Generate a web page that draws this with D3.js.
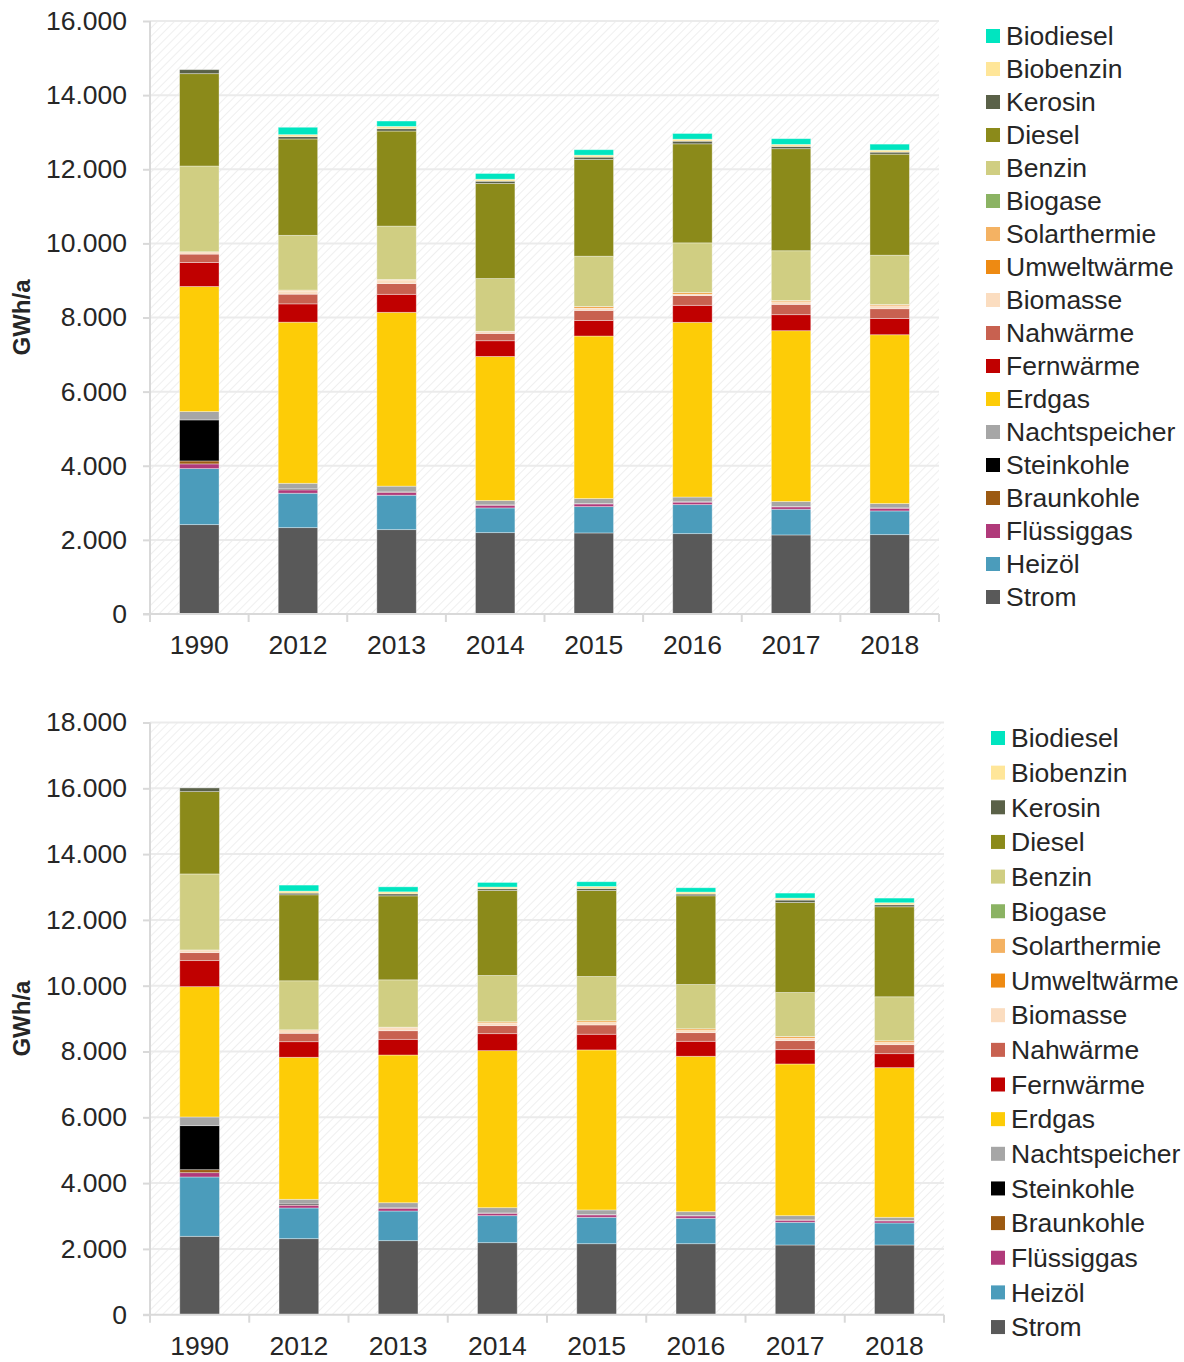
<!DOCTYPE html>
<head>
    <meta charset="utf-8">
    <title>Endenergie GWh/a</title>
    <script src="https://d3js.org/d3.v7.min.js"></script>
    <style>
        body { margin: 0; background: #fff; font-family: "Liberation Sans", Arial, sans-serif; }
        .axis text { font-size: 26.5px; fill: #262626; font-family: "Liberation Sans", Arial, sans-serif; }
        .legend text { font-size: 26.5px; fill: #262626; }
    </style>
</head>
<body>
<div id="container"></div>
<script>
    //------------------------1. DATA------------------------//
    var years = ["1990", "2012", "2013", "2014", "2015", "2016", "2017", "2018"]

    // stacking order, bottom to top
    var seriesNames = ["Strom", "Heizöl", "Flüssiggas", "Braunkohle", "Steinkohle", "Nachtspeicher", "Erdgas",
        "Fernwärme", "Nahwärme", "Biomasse", "Umweltwärme", "Solarthermie", "Biogase", "Benzin", "Diesel",
        "Kerosin", "Biobenzin", "Biodiesel"]
    var seriesColors = ["#595959", "#4B9CBB", "#B03A7A", "#9C5A12", "#000000", "#A6A6A6", "#FDCC07",
        "#C00000", "#C86150", "#FBDDC0", "#EE8A12", "#F4B263", "#8BB363", "#D0CE82", "#8B8A1A",
        "#5A6148", "#FFE699", "#00E5C0"]

    var yTicksTop = [0, 2000, 4000, 6000, 8000, 10000, 12000, 14000, 16000]
    var yTicksBottom = [0, 2000, 4000, 6000, 8000, 10000, 12000, 14000, 16000, 18000]

    // upper chart
    var topStrom = [2411, 2330, 2276, 2195, 2187, 2168, 2133, 2141]
    var topHeizoel = [1512, 929, 929, 667, 710, 783, 694, 640]
    var topFluessiggas = [127, 90, 80, 75, 75, 70, 65, 75]
    var topBraunkohle = [80, 8, 5, 3, 3, 3, 3, 3]
    var topSteinkohle = [1107, 20, 20, 5, 5, 5, 5, 5]
    var topNachtspeicher = [224, 150, 140, 116, 135, 127, 135, 116]
    var topErdgas = [3375, 4347, 4690, 3888, 4385, 4714, 4609, 4555]
    var topFernwaerme = [648, 494, 486, 424, 421, 459, 432, 440]
    var topNahwaerme = [227, 262, 289, 197, 270, 262, 278, 262]
    var topBiomasse = [62, 85, 95, 50, 65, 40, 73, 81]
    var topUmweltwaerme = [0, 20, 12, 5, 35, 36, 27, 27]
    var topSolarthermie = [0, 5, 5, 3, 5, 5, 5, 5]
    var topBiogase = [0, 0, 0, 0, 0, 0, 0, 0]
    var topBenzin = [2314, 1477, 1439, 1423, 1358, 1342, 1342, 1331]
    var topDiesel = [2492, 2600, 2565, 2565, 2611, 2672, 2754, 2727]
    var topKerosin = [108, 63, 63, 62, 62, 72, 62, 54]
    var topBiobenzin = [0, 54, 63, 54, 54, 54, 54, 54]
    var topBiodiesel = [0, 199, 144, 154, 146, 153, 154, 162]

    // lower chart
    var botStrom = [2383, 2311, 2250, 2189, 2158, 2158, 2119, 2119]
    var botHeizoel = [1803, 933, 902, 821, 803, 772, 690, 669]
    var botFluessiggas = [131, 85, 85, 75, 75, 75, 65, 65]
    var botBraunkohle = [91, 8, 5, 3, 3, 3, 3, 3]
    var botSteinkohle = [1338, 30, 20, 5, 5, 5, 5, 5]
    var botNachtspeicher = [264, 140, 141, 160, 140, 118, 128, 100]
    var botErdgas = [3961, 4317, 4490, 4773, 4864, 4724, 4611, 4548]
    var botFernwaerme = [791, 474, 477, 516, 477, 456, 435, 425]
    var botNahwaerme = [243, 256, 262, 244, 283, 262, 274, 274]
    var botBiomasse = [82, 80, 95, 82, 82, 73, 82, 73]
    var botUmweltwaerme = [0, 20, 8, 30, 39, 39, 39, 40]
    var botSolarthermie = [0, 5, 5, 5, 5, 5, 5, 5]
    var botBiogase = [0, 0, 0, 0, 0, 0, 0, 0]
    var botBenzin = [2310, 1490, 1438, 1408, 1347, 1347, 1338, 1337]
    var botDiesel = [2502, 2614, 2553, 2584, 2615, 2696, 2736, 2736]
    var botKerosin = [112, 51, 61, 52, 61, 52, 73, 61]
    var botBiobenzin = [0, 61, 61, 51, 61, 61, 60, 61]
    var botBiodiesel = [0, 183, 152, 140, 142, 131, 152, 142]

    var topSeries = [topStrom, topHeizoel, topFluessiggas, topBraunkohle, topSteinkohle, topNachtspeicher,
        topErdgas, topFernwaerme, topNahwaerme, topBiomasse, topUmweltwaerme, topSolarthermie, topBiogase,
        topBenzin, topDiesel, topKerosin, topBiobenzin, topBiodiesel]
    var botSeries = [botStrom, botHeizoel, botFluessiggas, botBraunkohle, botSteinkohle, botNachtspeicher,
        botErdgas, botFernwaerme, botNahwaerme, botBiomasse, botUmweltwaerme, botSolarthermie, botBiogase,
        botBenzin, botDiesel, botKerosin, botBiobenzin, botBiodiesel]

    //------------------------2. DRAW------------------------//
    var svg = d3.select("#container").append("svg")
        .attr("width", 1184).attr("height", 1362)

    // diagonal hatch for the plot background
    svg.append("defs").append("pattern")
        .attr("id", "hatch")
        .attr("patternUnits", "userSpaceOnUse")
        .attr("width", 6).attr("height", 6)
        .attr("patternTransform", "rotate(45)")
        .append("line")
        .attr("x1", 0).attr("y1", 0).attr("x2", 0).attr("y2", 6)
        .attr("stroke", "#EFEFEF").attr("stroke-width", 2)

    var fmt = function (d) { return d3.format(",")(d).replace(/,/g, "."); }

    function drawChart(cfg) {
        var x = d3.scaleBand().domain(years).range([cfg.left, cfg.right]).paddingInner(0).paddingOuter(0)
        var y = d3.scaleLinear().domain([0, cfg.yMax]).range([cfg.bottom, cfg.top])

        var g = svg.append("g")

        g.append("rect")
            .attr("x", cfg.left).attr("y", cfg.top)
            .attr("width", cfg.right - cfg.left).attr("height", cfg.bottom - cfg.top)
            .attr("fill", "url(#hatch)")

        // gridlines
        g.selectAll(".grid").data(cfg.ticks.slice(1)).enter().append("line")
            .attr("x1", cfg.left).attr("x2", cfg.right)
            .attr("y1", function (d) { return y(d); }).attr("y2", function (d) { return y(d); })
            .attr("stroke", "#EBEBEB").attr("stroke-width", 2)

        // y axis
        var yAxis = d3.axisLeft(y).tickValues(cfg.ticks).tickFormat(fmt).tickSize(7).tickPadding(16)
        var ya = g.append("g").attr("class", "axis")
            .attr("transform", "translate(" + cfg.left + ",0)")
            .call(yAxis)
        ya.selectAll("line").attr("stroke", "#D9D9D9").attr("stroke-width", 2)
        ya.select(".domain").remove()
        g.append("line")
            .attr("x1", cfg.left).attr("x2", cfg.left)
            .attr("y1", cfg.top).attr("y2", cfg.bottom)
            .attr("stroke", "#D9D9D9").attr("stroke-width", 2)

        // stacked bars
        var table = years.map(function (yr, i) {
            var row = { year: yr }
            seriesNames.forEach(function (s, k) { row[s] = cfg.series[k][i]; })
            return row
        })
        var stack = d3.stack().keys(seriesNames)(table)
        var bw = x.bandwidth() * 0.4

        g.selectAll(".layer").data(stack).enter().append("g")
            .attr("fill", function (d, k) { return seriesColors[k]; })
            .selectAll("rect").data(function (d) { return d; }).enter().append("rect")
            .attr("x", function (d) { return x(d.data.year) + (x.bandwidth() - bw) / 2; })
            .attr("width", bw)
            .attr("y", function (d) { return y(d[1]); })
            .attr("height", function (d) { return Math.max(0, y(d[0]) - y(d[1])); })
            .attr("stroke", "rgba(255,255,255,0.45)")
            .attr("stroke-width", function (d) { return d[1] - d[0] > 0 ? 0.8 : 0; })

        // x axis
        var xAxis = d3.axisBottom(x).tickSize(0).tickPadding(21)
        var xa = g.append("g").attr("class", "axis")
            .attr("transform", "translate(0," + cfg.bottom + ")")
            .call(xAxis)
        xa.select(".domain").remove()
        g.append("line")
            .attr("x1", cfg.left - 7).attr("x2", cfg.right)
            .attr("y1", cfg.bottom).attr("y2", cfg.bottom)
            .attr("stroke", "#D9D9D9").attr("stroke-width", 2)
        var bounds = years.map(function (d) { return x(d); }).concat([cfg.right])
        g.selectAll(".xtick").data(bounds).enter().append("line")
            .attr("x1", function (d) { return d; }).attr("x2", function (d) { return d; })
            .attr("y1", cfg.bottom).attr("y2", cfg.bottom + 8)
            .attr("stroke", "#D9D9D9").attr("stroke-width", 2)

        // y label
        g.append("text")
            .attr("transform", "translate(" + 30 + "," + ((cfg.top + cfg.bottom) / 2) + ") rotate(-90)")
            .attr("text-anchor", "middle")
            .style("font-size", "24px").style("font-weight", "bold").style("fill", "#262626")
            .text("GWh/a")

        // legend, top entry = last series
        var leg = g.append("g").attr("class", "legend")
        var items = seriesNames.map(function (s, k) { return { name: s, color: seriesColors[k] }; }).reverse()
        var rows = leg.selectAll("g").data(items).enter().append("g")
            .attr("transform", function (d, i) {
                return "translate(" + cfg.legendX + "," + (cfg.legendY + i * cfg.legendStep) + ")";
            })
        rows.append("rect")
            .attr("x", 0).attr("y", -7).attr("width", 14).attr("height", 14)
            .attr("fill", function (d) { return d.color; })
        rows.append("text")
            .attr("x", 20).attr("y", 0).attr("dy", "0.35em")
            .text(function (d) { return d.name; })
    }

    drawChart({ left: 150, right: 939, top: 21, bottom: 614, yMax: 16000, ticks: yTicksTop,
        series: topSeries, legendX: 986, legendY: 36, legendStep: 33.0 })
    drawChart({ left: 150, right: 944, top: 722.5, bottom: 1314.7, yMax: 18000, ticks: yTicksBottom,
        series: botSeries, legendX: 991, legendY: 738, legendStep: 34.65 })
</script>
</body>
